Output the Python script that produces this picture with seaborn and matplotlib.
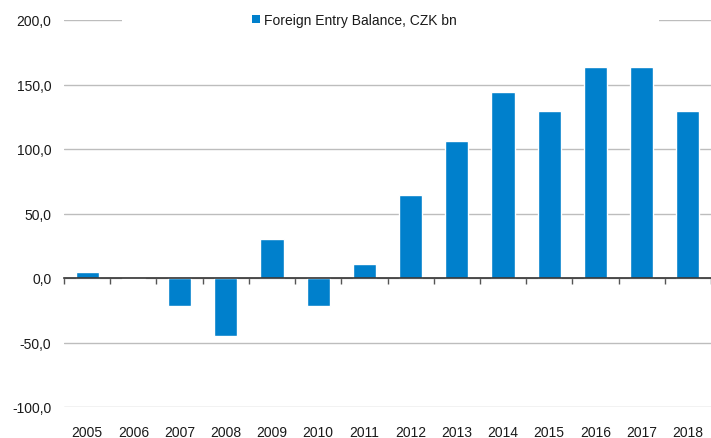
import matplotlib
matplotlib.use('Agg')  # no display
import matplotlib.pyplot as plt
import seaborn as sns
import pandas as pd
from matplotlib.patches import Patch, Rectangle
from matplotlib.ticker import FuncFormatter

# Data
years = ["2005", "2006", "2007", "2008", "2009", "2010", "2011",
         "2012", "2013", "2014", "2015", "2016", "2017", "2018"]
balance = [4.9, -0.8, -21.5, -44.7, 30.2, -21.5, 10.9,
           64.5, 106.4, 144.5, 129.8, 163.2, 163.2, 129.8]
series_label = "Foreign Entry Balance, CZK bn"
y_ticks = [-100, -50, 0, 50, 100, 150, 200]

BLUE = "#0080cc"
GRID = "#bdbdbd"
TEXT = "#1a1a1a"

sns.set_theme(style="white")
plt.rcParams['font.family'] = ['Liberation Sans', 'DejaVu Sans']

df = pd.DataFrame({"year": years, "balance": balance})

W, H = 711, 439
fig = plt.figure(figsize=(W / 100, H / 100), dpi=100)
ax = fig.add_axes([64 / W, 31 / H, 647 / W, 387 / H])

sns.barplot(data=df, x="year", y="balance", color=BLUE, saturation=1,
            width=0.5, ax=ax, zorder=3)

# y axis
ax.set_ylim(-100, 200)
ax.set_yticks(y_ticks)
ax.yaxis.set_major_formatter(FuncFormatter(lambda v, p: f"{v:.1f}".replace(".", ",")))
ax.tick_params(axis="y", length=0, pad=9, labelsize=10, labelcolor=TEXT)
ax.yaxis.grid(True, color=GRID, linewidth=1)
ax.set_axisbelow(True)
ax.set_ylabel("")
ax.set_xlabel("")

# x axis: spine at zero with ticks between categories
n = len(years)
ax.set_xlim(-0.5, -0.5 + 647 / 47.17)
for s in ["top", "right", "left"]:
    ax.spines[s].set_visible(False)
ax.spines["bottom"].set_position(("data", 0))
ax.spines["bottom"].set_color("#333333")
ax.spines["bottom"].set_linewidth(1.2)
ax.spines["bottom"].set_zorder(4)
ax.set_xticks([i - 0.5 for i in range(n + 1)], labels=[""] * (n + 1))
ax.tick_params(axis="x", bottom=True, direction="out", length=4, width=1,
               color="#555555")

# year labels at the bottom of the plot area
sec = ax.secondary_xaxis("bottom")
sec.set_xticks(range(n), labels=years)
sec.tick_params(length=0, pad=13, labelsize=10, labelcolor=TEXT)
sec.spines["bottom"].set_visible(False)

# white band behind the legend hiding the top gridline
ax.add_patch(Rectangle((122 / W, 1 - 27 / H), (659 - 122) / W, 12 / H,
                       transform=fig.transFigure, facecolor="white",
                       edgecolor="none", clip_on=False, zorder=2.5))

ax.legend(handles=[Patch(facecolor=BLUE, edgecolor="none")], labels=[series_label],
          loc="center left", bbox_to_anchor=(252 / W, 1 - 21 / H),
          bbox_transform=fig.transFigure, frameon=False, handlelength=0.55,
          handleheight=0.55, handletextpad=0.3, borderpad=0, borderaxespad=0,
          fontsize=10, labelcolor=TEXT)

fig.savefig("out.png", dpi=100)
